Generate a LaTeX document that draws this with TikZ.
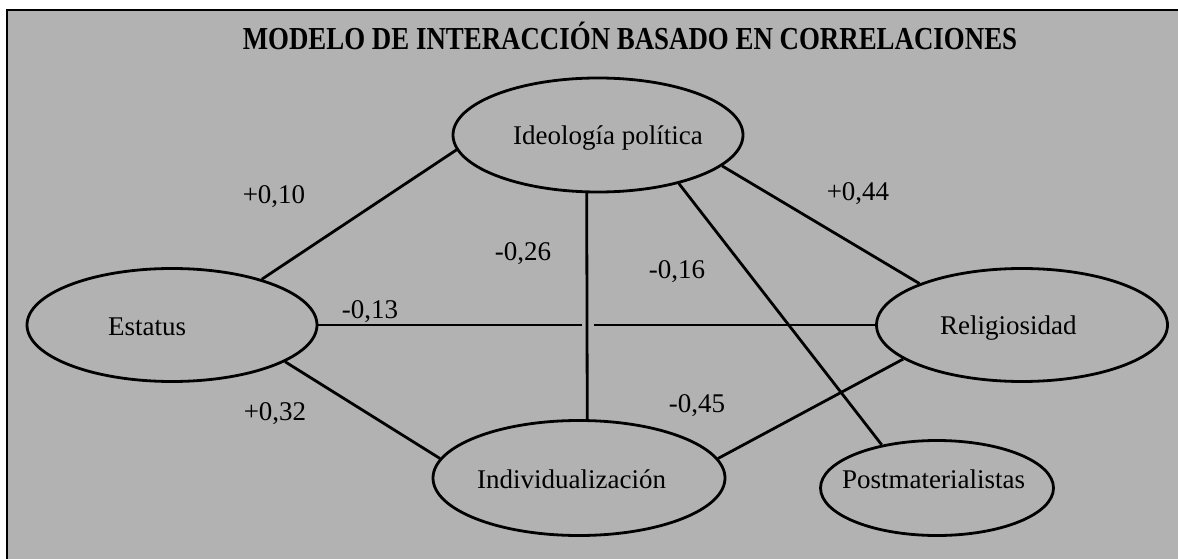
\documentclass[tikz,border=0pt]{standalone}
\usepackage{fontspec}
\setmainfont{Liberation Serif}
\usetikzlibrary{shapes.geometric}
\definecolor{stipple}{gray}{0.70}
\begin{document}
\begin{tikzpicture}[x=1pt,y=-1pt,
  oval/.style={draw,ellipse,line width=2.8pt,inner sep=0pt},
  conn/.style={line width=2.8pt},
  txt/.style={font=\fontsize{27}{30}\selectfont,inner sep=0pt},
  lbl/.style={font=\fontsize{27}{30}\selectfont,inner sep=0pt,anchor=base}]
\useasboundingbox (0,0) rectangle (1178,559);
\fill[stipple] (7,10) rectangle (1178,559);
\draw[line width=2.5pt] (7,559) -- (7,10) -- (1178,10);

\node[anchor=base,inner sep=0pt] (title) at (630,50)
  {\scalebox{0.84}[1]{\fontsize{32}{36}\selectfont\bfseries MODELO DE INTERACCIÓN BASADO EN CORRELACIONES}};

\node[oval,minimum width=290pt,minimum height=114pt] (ideo) at (598,135) {};
\node[oval,minimum width=290pt,minimum height=113pt] (est) at (172,325) {};
\node[oval,minimum width=291pt,minimum height=113pt] (rel) at (1022,325) {};
\node[oval,minimum width=292pt,minimum height=115pt] (ind) at (579,478) {};
\node[oval,minimum width=233pt,minimum height=95pt] (post) at (937,488) {};

\node[txt,anchor=base west] (ideoT) at (513,145) {Ideología política};
\node[txt,anchor=base west] (estT) at (108,335) {Estatus};
\node[txt,anchor=base west] (relT) at (940,334) {Religiosidad};
\node[txt,anchor=base west] (indT) at (477,488) {Individualización};
\node[txt,anchor=base west] (postT) at (842,488) {Postmaterialistas};

\draw[conn] (est.27) -- (ideo.186);
\draw[conn] (est.342) -- (ind.172);
\coordinate (gapL) at (582,325);
\coordinate (gapR) at (594,325);
\draw[conn] (est.east) -- (gapL);
\draw[conn] (gapR) -- (rel.west);
\draw[conn] (ideo.259) -- (ind.82);
\draw[conn] (ideo.329) -- (post.142);
\draw[conn] (ideo.346) -- (rel.158);
\draw[conn] (ind.8) -- (rel.196);

\node[lbl] (l1) at (274,203) {+0,10};
\node[lbl] (l2) at (523,260) {-0,26};
\node[lbl] (l3) at (677,278) {-0,16};
\node[lbl] (l4) at (858,200) {+0,44};
\node[lbl] (l5) at (370,318) {-0,13};
\node[lbl] (l6) at (275,420) {+0,32};
\node[lbl] (l7) at (697,412) {-0,45};
\end{tikzpicture}
\end{document}
